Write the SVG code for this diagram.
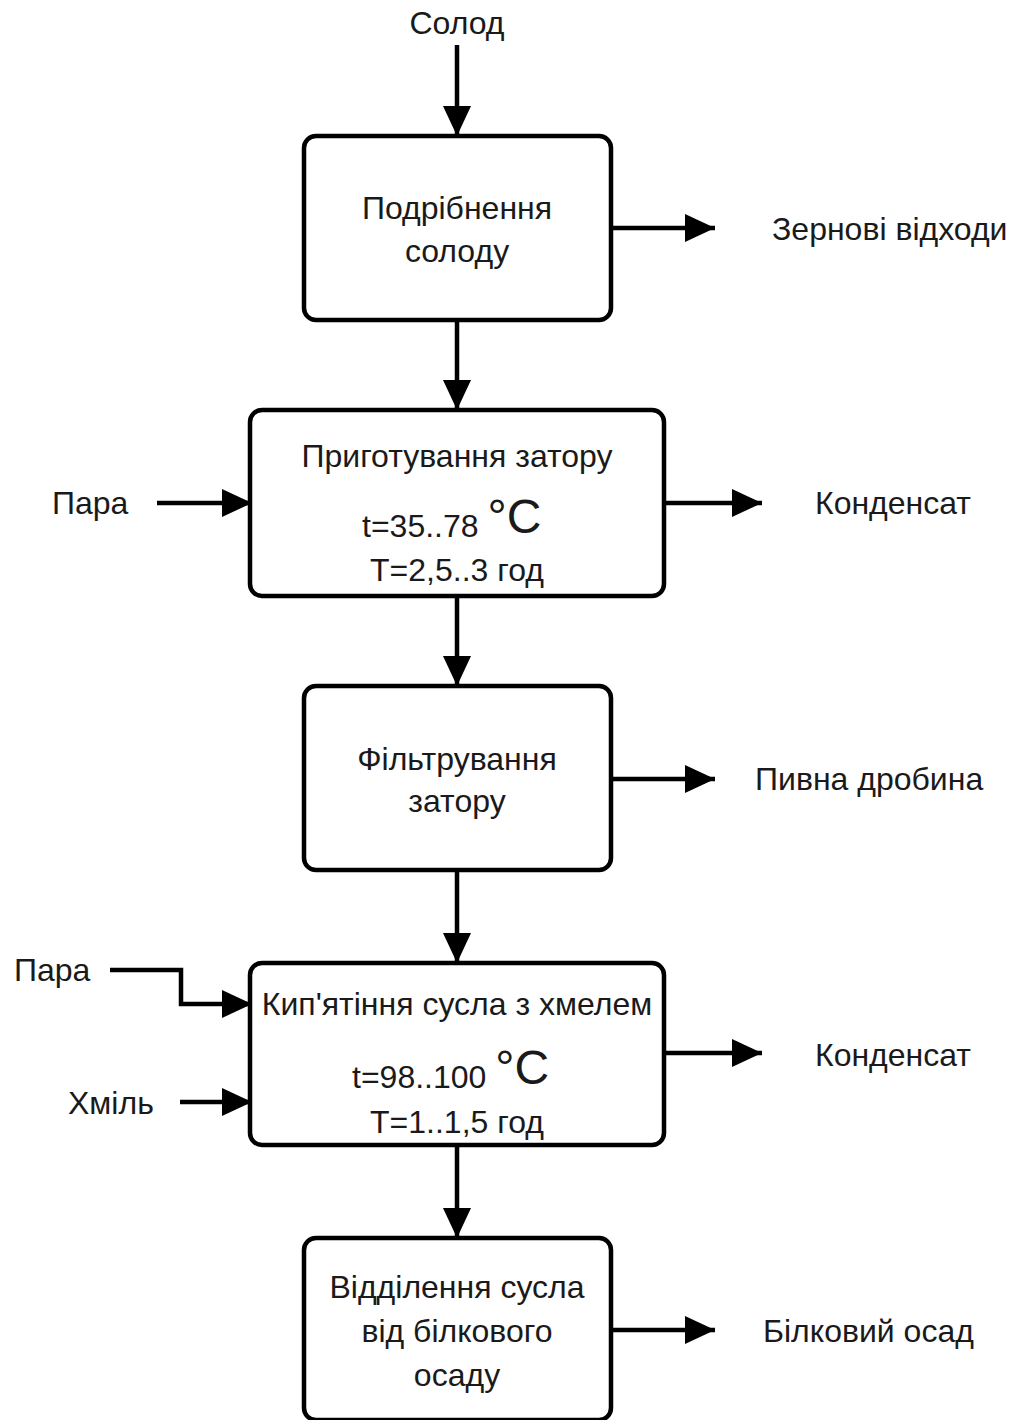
<svg xmlns="http://www.w3.org/2000/svg" width="1024" height="1420" viewBox="0 0 1024 1420">
<defs>
<marker id="ah" markerUnits="userSpaceOnUse" markerWidth="32" markerHeight="32" viewBox="0 0 32 32" refX="30" refY="16" orient="auto">
<path d="M0,2 L30,16 L0,30 Z" fill="#000"/>
</marker>
<style>
.box{fill:#fff;stroke:#000;stroke-width:4.5}
.t{font-family:"Liberation Sans",Arial,sans-serif;font-size:32px;fill:#1a1a1a;text-anchor:middle}
.l{font-family:"Liberation Sans",Arial,sans-serif;font-size:32px;fill:#1a1a1a}
.deg{font-size:48px}
.c{fill:none;stroke:#000;stroke-width:4.5;marker-end:url(#ah)}
</style>
</defs>
<rect width="1024" height="1420" fill="#fff"/>
<g id="connectors">
<path class="c" d="M457,45 V136"/>
<path class="c" d="M457,320 V410"/>
<path class="c" d="M457,596 V686"/>
<path class="c" d="M457,870 V963"/>
<path class="c" d="M457,1145 V1238"/>
<path class="c" d="M611,228 H715"/>
<path class="c" d="M664,503 H762"/>
<path class="c" d="M611,779 H715"/>
<path class="c" d="M664,1053 H762"/>
<path class="c" d="M611,1330 H715"/>
<path class="c" d="M157,503 H252"/>
<path class="c" d="M110,970 H181 V1004 H252"/>
<path class="c" d="M180,1102 H252"/>
</g>
<g id="n-solod"><text class="t" x="457" y="34">Солод</text></g>
<g id="n1">
<rect class="box" x="304" y="136" width="307" height="184" rx="12"/>
<text class="t" x="457" y="219">Подрібнення</text>
<text class="t" x="457" y="262">солоду</text>
</g>
<g id="n2">
<rect class="box" x="250" y="410" width="414" height="186" rx="12"/>
<text class="t" x="457" y="467">Приготування затору</text>
<text class="l" x="362" y="537">t=35..78 <tspan class="deg" dy="-4">°C</tspan></text>
<text class="t" x="457" y="581">T=2,5..3 год</text>
</g>
<g id="n3">
<rect class="box" x="304" y="686" width="307" height="184" rx="12"/>
<text class="t" x="457" y="770">Фільтрування</text>
<text class="t" x="457" y="812">затору</text>
</g>
<g id="n4">
<rect class="box" x="250" y="963" width="414" height="182" rx="12"/>
<text class="t" x="457" y="1015">Кип'ятіння сусла з хмелем</text>
<text class="l" x="352" y="1088">t=98..100 <tspan class="deg" dy="-4">°C</tspan></text>
<text class="t" x="457" y="1133">T=1..1,5 год</text>
</g>
<g id="n5">
<rect class="box" x="304" y="1238" width="307" height="182" rx="12"/>
<text class="t" x="457" y="1298">Відділення сусла</text>
<text class="t" x="457" y="1342">від білкового</text>
<text class="t" x="457" y="1386">осаду</text>
</g>
<g id="out1"><text class="l" x="772" y="240">Зернові відходи</text></g>
<g id="out2"><text class="l" x="815" y="514">Конденсат</text></g>
<g id="out3"><text class="l" x="755" y="790">Пивна дробина</text></g>
<g id="out4"><text class="l" x="815" y="1066">Конденсат</text></g>
<g id="out5"><text class="l" x="763" y="1342">Білковий осад</text></g>
<g id="in1"><text class="l" x="52" y="514">Пара</text></g>
<g id="in2"><text class="l" x="14" y="981">Пара</text></g>
<g id="in3"><text class="l" x="68" y="1114">Хміль</text></g>
</svg>
